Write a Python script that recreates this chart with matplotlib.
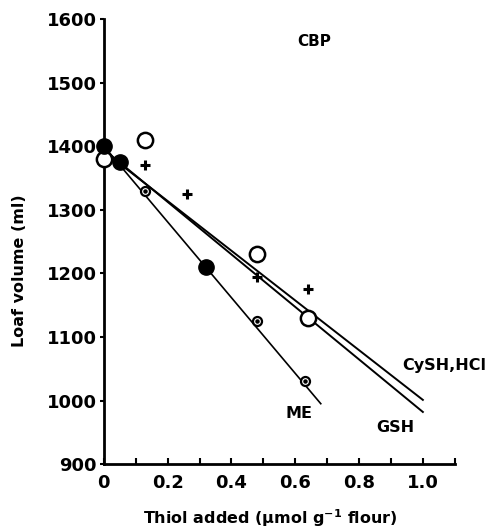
import matplotlib
matplotlib.use("Agg")
import matplotlib.pyplot as plt
from matplotlib.ticker import MultipleLocator

plt.rcParams['font.family'] = ['DejaVu Sans']
plt.rcParams['font.weight'] = 'bold'
plt.rcParams['mathtext.default'] = 'bf'

# Data
gsh_x = [0.0, 0.13, 0.48, 0.64]
gsh_y = [1380, 1410, 1230, 1130]
cysh_x = [0.13, 0.26, 0.48, 0.64]
cysh_y = [1370, 1325, 1195, 1175]
me_x = [0.13, 0.48, 0.63]
me_y = [1330, 1125, 1030]
filled_x = [0.0, 0.05, 0.32]
filled_y = [1400, 1375, 1210]

# Fitted lines (end points)
me_line_x = [0.0, 0.68]
me_line_y = [1400, 995]
gsh_line_x = [0.0, 1.0]
gsh_line_y = [1395, 982]
cysh_line_x = [0.0, 1.0]
cysh_line_y = [1392, 1001]

fig = plt.figure(figsize=(4.97, 5.31), dpi=100)
ax = fig.add_axes([0.209, 0.126, 0.706, 0.838])

ax.plot(me_line_x, me_line_y, color='black', lw=1.2, zorder=2)
ax.plot(gsh_line_x, gsh_line_y, color='black', lw=1.4, zorder=2)
ax.plot(cysh_line_x, cysh_line_y, color='black', lw=1.4, zorder=2)

ax.plot(gsh_x, gsh_y, 'o', ms=11, mfc='white', mec='black', mew=1.8, zorder=3, clip_on=False)
ax.plot(cysh_x, cysh_y, '+', ms=7, mec='black', mew=2.2, zorder=3)
ax.plot(me_x, me_y, 'o', ms=6.5, mfc='white', mec='black', mew=1.6, zorder=3)
ax.plot(me_x, me_y, 'o', ms=2.2, mfc='black', mec='black', zorder=4)
ax.plot(filled_x, filled_y, 'o', ms=11, mfc='black', mec='black', zorder=4, clip_on=False)

ax.set_xlim(0, 1.1)
ax.set_ylim(900, 1600)
ax.spines['top'].set_visible(False)
ax.spines['right'].set_visible(False)
ax.spines['left'].set_linewidth(2)
ax.spines['bottom'].set_linewidth(2)

ax.xaxis.set_minor_locator(MultipleLocator(0.1))
ax.yaxis.set_major_locator(MultipleLocator(100))
ax.set_xticks([0, 0.2, 0.4, 0.6, 0.8, 1.0])
ax.set_xticklabels(['0', '0.2', '0.4', '0.6', '0.8', '1.0'])
ax.tick_params(axis='x', which='both', direction='in', length=4, width=1.5, labelsize=13, pad=7)
ax.tick_params(axis='y', which='both', direction='out', length=3, width=1.5, labelsize=13, pad=2)

fig.text(0.543, 0.024, 'Thiol added (μmol g$^{-1}$ flour)', fontsize=11.5, fontweight='bold',
         ha='center', va='center')
ax.set_ylabel('Loaf volume (ml)', fontsize=11.5, fontweight='bold')
ax.yaxis.set_label_coords(-0.22, 0.435)

ax.text(0.66, 1565, 'CBP', fontsize=11, fontweight='bold', ha='center', va='center')
ax.text(0.934, 1055, 'CySH,HCl', fontsize=11.5, fontweight='bold', ha='left', va='center', clip_on=False)
ax.text(0.853, 957, 'GSH', fontsize=11.5, fontweight='bold', ha='left', va='center')
ax.text(0.57, 980, 'ME', fontsize=11.5, fontweight='bold', ha='left', va='center')

fig.savefig('out.png', dpi=100)
